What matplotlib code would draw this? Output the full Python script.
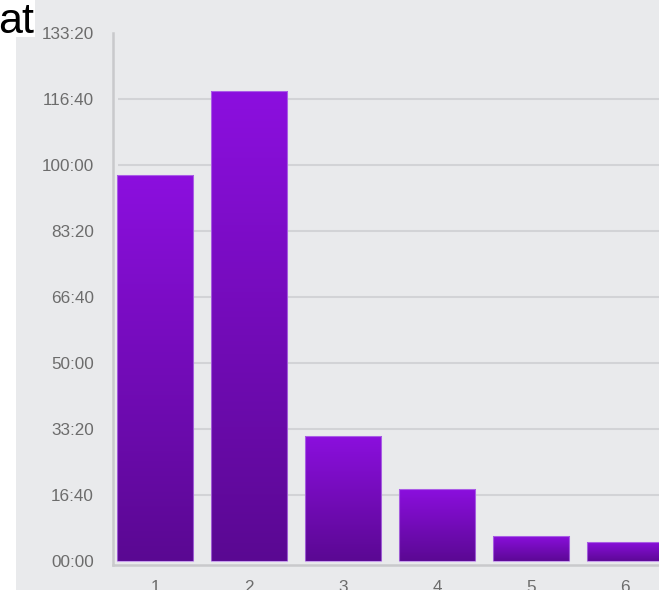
import matplotlib
matplotlib.use("Agg")
import matplotlib.pyplot as plt
import numpy as np
from matplotlib.colors import LinearSegmentedColormap
from matplotlib.patches import Rectangle

categories = ["1", "2", "3", "4", "5", "6"]
durations_s = [5850, 7120, 1895, 1085, 375, 285]
y_ticks = [0, 1000, 2000, 3000, 4000, 5000, 6000, 7000, 8000]
y_labels = ["00:00", "16:40", "33:20", "50:00", "66:40", "83:20", "100:00", "116:40", "133:20"]

W, H = 659, 590
fig = plt.figure(figsize=(W / 100, H / 100), dpi=100)
bg = "#e9eaec"
fig.patch.set_facecolor(bg)
fig.patches.append(Rectangle((0, 0), 16 / W, 1, transform=fig.transFigure,
                             facecolor="white", edgecolor="none", zorder=-2))
fig.patches.append(Rectangle((0, (H - 37) / H), 35 / W, 37 / H, transform=fig.transFigure,
                             facecolor="white", edgecolor="none", zorder=-2))
fig.text(34 / W, (H - 33) / H, "at", fontsize=31, family="Liberation Sans",
         ha="right", va="baseline", color="black", zorder=5)

ax_left, ax_right = 113, 677
ax_bottom, ax_top = 565, 33
ax = fig.add_axes([ax_left / W, (H - ax_bottom) / H,
                   (ax_right - ax_left) / W, (ax_bottom - ax_top) / H])
ax.set_facecolor("none")

x = np.arange(1, len(categories) + 1)
xl = (0.553, 0.553 + 6.0)
yl = (-60.6, 8000)

grid_color = "#d2d3d6"
ax.hlines(y_ticks[1:-1], xl[0] + 5 / 94, xl[1], colors=grid_color, linewidth=1.5, zorder=1)

cmap = LinearSegmentedColormap.from_list("pg", ["#5a0892", "#8c0fdf"])
grad = np.linspace(0, 1, 256).reshape(-1, 1)
bw = 0.81
bars = ax.bar(x, durations_s, width=bw, facecolor="none",
              edgecolor=(0.72, 0.5, 0.92, 0.7), linewidth=0.8, zorder=4)
for b, xi, v in zip(bars, x, durations_s):
    im = ax.imshow(grad, extent=(xi - bw / 2 - 0.02, xi + bw / 2 + 0.02, -20, v + 20),
                   origin="lower", cmap=cmap, aspect="auto", zorder=3,
                   interpolation="bilinear")
    im.set_clip_path(b)
ax.set_xlim(*xl)
ax.set_ylim(*yl)

for s in ["top", "right"]:
    ax.spines[s].set_visible(False)
for s in ["left", "bottom"]:
    ax.spines[s].set_color("#c9c9cc")
    ax.spines[s].set_linewidth(1.8)

ax.set_yticks(y_ticks)
ax.set_yticklabels(y_labels)
ax.set_xticks(x)
ax.set_xticklabels(categories)
ax.tick_params(axis="y", length=0, pad=13.7, labelsize=12.3, labelcolor="#6c6c6c")
ax.tick_params(axis="x", length=0, pad=10.5, labelsize=12.3, labelcolor="#6c6c6c")
for lab in ax.get_xticklabels() + ax.get_yticklabels():
    lab.set_family("Liberation Sans")

fig.savefig("out.png", dpi=100)
